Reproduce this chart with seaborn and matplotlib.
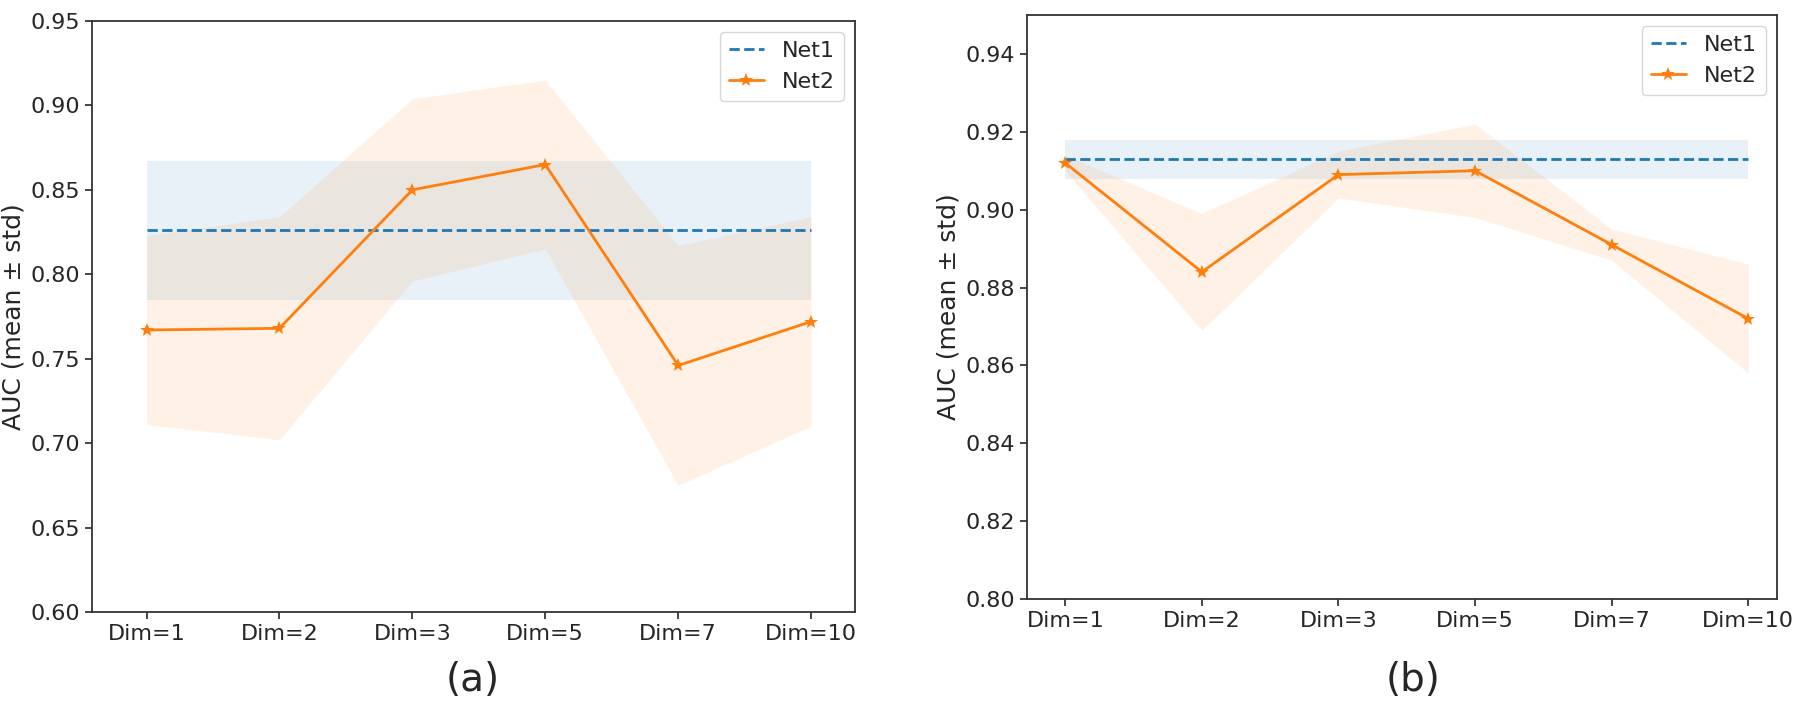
import matplotlib
matplotlib.use('Agg')
import matplotlib.pyplot as plt
import numpy as np
import pandas as pd
import seaborn as sns

dims = ['Dim=1', 'Dim=2', 'Dim=3', 'Dim=5', 'Dim=7', 'Dim=10']

# panel (a)
a_net1_mean = 0.826
a_net1_std = 0.041
a_net2_mean = [0.767, 0.768, 0.850, 0.865, 0.746, 0.772]
a_net2_std = [0.056, 0.066, 0.054, 0.050, 0.071, 0.062]

# panel (b)
b_net1_mean = 0.913
b_net1_std = 0.005
b_net2_mean = [0.912, 0.884, 0.909, 0.910, 0.891, 0.872]
b_net2_std = [0.002, 0.015, 0.006, 0.012, 0.004, 0.014]

sns.set_theme(style='ticks', rc={'axes.spines.top': True, 'axes.spines.right': True})
plt.rcParams['font.family'] = ['DejaVu Sans']

fig = plt.figure(figsize=(18, 7.04), dpi=100)
ax_a = fig.add_axes([92 / 1800, 1 - 612 / 704, (855 - 92) / 1800, (612 - 21) / 704])
ax_b = fig.add_axes([1027 / 1800, 1 - 599 / 704, (1777 - 1027) / 1800, (599 - 15) / 704])


def panel(ax, n1_mean, n1_std, n2_mean, n2_std):
    pos = np.arange(len(dims))
    df = pd.DataFrame({'pos': pos, 'Net1': [n1_mean] * len(dims), 'Net2': n2_mean})
    lo = np.array(n2_mean) - np.array(n2_std)
    hi = np.array(n2_mean) + np.array(n2_std)
    ax.fill_between(pos, n1_mean - n1_std, n1_mean + n1_std, color='tab:blue', alpha=0.1, lw=0)
    ax.fill_between(pos, lo, hi, color='tab:orange', alpha=0.1, lw=0)
    sns.lineplot(data=df, x='pos', y='Net1', color='tab:blue', linestyle='--', lw=2,
                 label='Net1', ax=ax)
    sns.lineplot(data=df, x='pos', y='Net2', color='tab:orange', marker='*', markersize=10,
                 markeredgewidth=0, lw=2, label='Net2', ax=ax)
    ax.set_xticks(pos)
    ax.set_xticklabels(dims)
    ax.set_xlabel('')
    ax.set_ylabel('AUC (mean ± std)', fontsize=18)
    ax.tick_params(labelsize=16, length=5, width=1.2)
    for s in ax.spines.values():
        s.set_color('#333333')
        s.set_linewidth(1.3)
    ax.legend(loc='upper right', fontsize=16, handlelength=1.6, fancybox=True, framealpha=0.8)


panel(ax_a, a_net1_mean, a_net1_std, a_net2_mean, a_net2_std)
ax_a.set_xlim(-0.41, 5.33)
ax_a.set_ylim(0.60, 0.95)
ax_a.set_yticks(np.arange(0.60, 0.951, 0.05))

panel(ax_b, b_net1_mean, b_net1_std, b_net2_mean, b_net2_std)
ax_b.set_xlim(-0.28, 5.21)
ax_b.set_ylim(0.80, 0.95)
ax_b.set_yticks(np.arange(0.80, 0.941, 0.02))

fig.text(473 / 1800, 1 - 680 / 704, '(a)', fontsize=28, ha='center', va='center')
fig.text(1413 / 1800, 1 - 680 / 704, '(b)', fontsize=28, ha='center', va='center')

fig.savefig('out.png', dpi=100)
